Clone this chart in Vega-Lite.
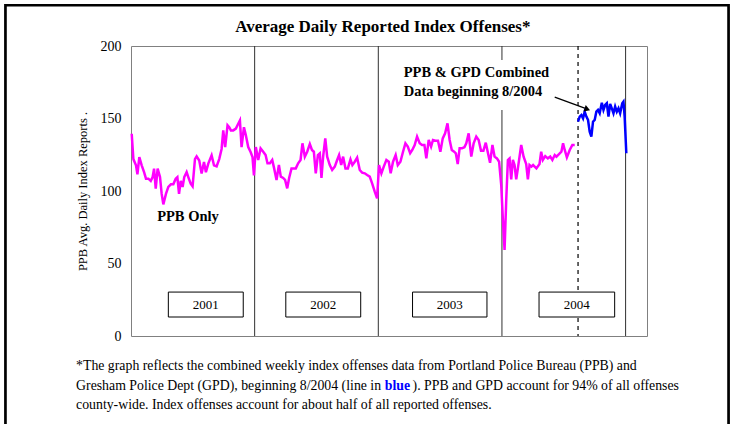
{
"$schema": "https://vega.github.io/schema/vega-lite/v6.json",
"width": 516, "height": 290,
"autosize": "none",
"padding": {"left": 131, "top": 46, "right": 85, "bottom": 88},
"background": "white",
"config": {"view": {"stroke": "#808080", "strokeWidth": 1}, "font": "Liberation Serif", "axis": {"labelFont": "Liberation Serif", "titleFont": "Liberation Serif", "labelFontSize": 14}},
"datasets": {
"ppb": [
{"week":0.3,"value":139.5},{"week":1.0,"value":122},{"week":2.1,"value":117.7},{"week":2.7,"value":111.5},{"week":3.5,"value":123.4},{"week":4.5,"value":117.7},{"week":5.5,"value":113},{"week":6.3,"value":108.5},{"week":7.3,"value":108.5},{"week":8.3,"value":107},{"week":9.1,"value":109.6},{"week":9.7,"value":115.4},{"week":10.4,"value":101.6},{"week":11.2,"value":115.4},{"week":12.2,"value":109.6},{"week":12.9,"value":98},{"week":13.6,"value":90.8},{"week":14.7,"value":98},{"week":15.7,"value":102.8},{"week":16.8,"value":104.6},{"week":17.8,"value":104.6},{"week":18.8,"value":108.5},{"week":19.5,"value":109.6},{"week":20.2,"value":98},{"week":20.9,"value":107},{"week":21.7,"value":102.8},{"week":22.4,"value":109.6},{"week":23.4,"value":113},{"week":24.1,"value":109.6},{"week":25.1,"value":105},{"week":25.9,"value":103.2},{"week":26.9,"value":122},{"week":27.6,"value":123.9},{"week":28.7,"value":121},{"week":29.7,"value":112},{"week":30.7,"value":120},{"week":31.5,"value":113},{"week":32.5,"value":118.9},{"week":33.9,"value":124.6},{"week":34.9,"value":117.7},{"week":36.0,"value":117},{"week":37.1,"value":122},{"week":38.1,"value":129},{"week":38.8,"value":141.8},{"week":39.6,"value":130.3},{"week":40.6,"value":145.3},{"week":41.3,"value":144},{"week":42.0,"value":141.8},{"week":43.0,"value":141.8},{"week":44.1,"value":143},{"week":45.1,"value":146.4},{"week":45.8,"value":148.7},{"week":46.5,"value":130.3},{"week":47.5,"value":144},{"week":48.3,"value":138.4},{"week":49.3,"value":130.3},{"week":50.3,"value":126.9},{"week":51.1,"value":123.4},{"week":51.7,"value":110.8},{"week":52.5,"value":130.3},
{"week":53.5,"value":121.4},{"week":54.5,"value":129.4},{"week":55.6,"value":127.1},{"week":56.6,"value":124.8},{"week":57.4,"value":119.1},{"week":58.4,"value":119.1},{"week":59.4,"value":121.4},{"week":60.2,"value":115.6},{"week":61.2,"value":107.6},{"week":62.2,"value":117.9},{"week":63.0,"value":109.9},{"week":64.0,"value":109},{"week":64.8,"value":107.6},{"week":65.7,"value":101.8},{"week":66.5,"value":109},{"week":67.5,"value":115.6},{"week":68.5,"value":115.6},{"week":69.3,"value":115.6},{"week":70.3,"value":119.1},{"week":71.3,"value":121.4},{"week":72.1,"value":132.9},{"week":73.1,"value":123.7},{"week":74.1,"value":127.1},{"week":75.2,"value":132.4},{"week":76.1,"value":128.3},{"week":76.9,"value":127.1},{"week":77.7,"value":112.2},{"week":78.6,"value":124.8},{"week":79.4,"value":126},{"week":80.1,"value":109},{"week":80.8,"value":123.7},{"week":81.7,"value":136.3},{"week":82.5,"value":123.7},{"week":83.6,"value":117.9},{"week":84.6,"value":114.5},{"week":85.7,"value":116.8},{"week":86.7,"value":121.4},{"week":87.5,"value":124.8},{"week":88.4,"value":117.9},{"week":89.2,"value":123.7},{"week":90.2,"value":115.6},{"week":91.2,"value":115.6},{"week":92.3,"value":121.8},{"week":93.1,"value":117.9},{"week":94.1,"value":120.2},{"week":95.1,"value":123},{"week":96.2,"value":114.5},{"week":97.2,"value":112.7},{"week":98.3,"value":112.2},{"week":99.3,"value":111},{"week":100.4,"value":109.9},{"week":101.4,"value":105.3},{"week":102.5,"value":99.5},{"week":103.5,"value":94.9},
{"week":104.3,"value":117.9},{"week":105.3,"value":112.2},{"week":106.3,"value":116.8},{"week":107.4,"value":121.4},{"week":108.4,"value":120.2},{"week":109.2,"value":112.2},{"week":110.2,"value":120.2},{"week":111.3,"value":124.8},{"week":112.2,"value":117.9},{"week":113.3,"value":120.2},{"week":114.4,"value":127.1},{"week":115.4,"value":132.9},{"week":116.4,"value":130.6},{"week":117.4,"value":126},{"week":118.3,"value":128.3},{"week":119.3,"value":131.7},{"week":120.3,"value":137.5},{"week":121.4,"value":132.9},{"week":122.4,"value":131.7},{"week":123.4,"value":131.7},{"week":124.2,"value":122.5},{"week":125.2,"value":135.2},{"week":126.2,"value":130.6},{"week":127.0,"value":135.2},{"week":128.0,"value":134.7},{"week":129.1,"value":134.7},{"week":130.1,"value":127.1},{"week":131.1,"value":136.3},{"week":132.1,"value":139.8},{"week":133.1,"value":146.7},{"week":134.0,"value":135.2},{"week":134.9,"value":128.3},{"week":135.9,"value":127.1},{"week":136.6,"value":126},{"week":137.4,"value":118.6},{"week":138.2,"value":129.4},{"week":139.2,"value":129.4},{"week":140.2,"value":130.2},{"week":141.0,"value":132.9},{"week":142.0,"value":139.8},{"week":143.1,"value":123.7},{"week":144.1,"value":132.9},{"week":145.2,"value":137.5},{"week":146.2,"value":135.2},{"week":147.2,"value":127.8},{"week":148.2,"value":127.8},{"week":149.2,"value":133.3},{"week":150.0,"value":127.1},{"week":151.0,"value":119.5},{"week":152.0,"value":131.7},{"week":152.9,"value":123.7},{"week":153.9,"value":122.5},{"week":154.8,"value":120.2},{"week":155.7,"value":104.1},{"week":156.4,"value":80},{"week":157.1,"value":59.3},{"week":157.8,"value":93.8},{"week":158.5,"value":121.4},
{"week":159.2,"value":122.5},{"week":159.9,"value":108},{"week":160.6,"value":121.4},{"week":161.3,"value":117.9},{"week":162.0,"value":108},{"week":162.7,"value":115.6},{"week":164.1,"value":131.7},{"week":165.1,"value":123.7},{"week":166.2,"value":118.6},{"week":166.9,"value":108},{"week":167.6,"value":117.9},{"week":168.4,"value":116.8},{"week":169.1,"value":117.9},{"week":170.5,"value":115.6},{"week":171.8,"value":118.6},{"week":172.5,"value":127.1},{"week":173.2,"value":121.4},{"week":174.2,"value":124.1},{"week":175.3,"value":122.5},{"week":176.3,"value":123.7},{"week":177.2,"value":121.4},{"week":178.2,"value":124.8},{"week":178.9,"value":123.7},{"week":180.0,"value":125.5},{"week":181.0,"value":127.1},{"week":181.7,"value":132.9},{"week":182.4,"value":128.3},{"week":183.3,"value":123.2},{"week":184.5,"value":128.3},{"week":185.6,"value":131.7},{"week":186.6,"value":131.7}
],
"combined": [
{"week":188.0,"value":147.8},{"week":188.7,"value":151.3},{"week":189.4,"value":152.4},{"week":190.1,"value":150.1},{"week":190.8,"value":154.7},{"week":191.5,"value":151.3},{"week":192.2,"value":149},{"week":192.9,"value":140.9},{"week":193.6,"value":137.5},{"week":194.3,"value":147.8},{"week":195.0,"value":149},{"week":195.7,"value":154.7},{"week":196.4,"value":155.9},{"week":197.1,"value":153.6},{"week":198.0,"value":160.9},{"week":198.7,"value":155.9},{"week":199.4,"value":159.3},{"week":200.1,"value":160.5},{"week":200.8,"value":151.3},{"week":201.5,"value":160},{"week":202.2,"value":157},{"week":202.9,"value":153.6},{"week":203.6,"value":158.2},{"week":204.3,"value":154.7},{"week":205.0,"value":157},{"week":205.7,"value":153.6},{"week":206.6,"value":160.5},{"week":207.1,"value":161.6},{"week":207.6,"value":151.3},{"week":208.3,"value":126}
],
"years": [{"week":52},{"week":104},{"week":156},{"week":208}],
"dash": [{"week":188}],
"boxes": [
{"week":15.7,"week2":47.2,"value":13.1,"value2":30.3,"label":"2001","mid":31.45},
{"week":65.1,"week2":96.6,"value":13.1,"value2":30.3,"label":"2002","mid":80.85},
{"week":118.4,"week2":149.7,"value":13.1,"value2":30.3,"label":"2003","mid":134.05},
{"week":171.6,"week2":203.4,"value":13.1,"value2":30.3,"label":"2004","mid":187.5}
],
"mask": [{"week":112.2,"week2":179,"value":155.9,"value2":190.3}],
"frame": [{"week":-52.8,"week2":251.3,"value":228.1,"value2":-64.8}],
"labels": [
{"week":11,"value":82,"text":"PPB Only"},
{"week":114.7,"value":181.4,"text":"PPB & GPD Combined"},
{"week":114.7,"value":168.3,"text":"Data beginning 8/2004"}
],
"heading": [{"week":105.9,"value":213.1,"text":"Average Daily Reported Index Offenses*"}],
"arrow": [{"week":178.2,"value":164.8,"week2":190.8,"value2":157.2}],
"arrowhead": [{"week":191.9,"value":156.4}],
"notes": [
{"week":-23.1,"value":-20.7,"text":"*The graph reflects the combined weekly index offenses data from  Portland Police Bureau (PPB) and"},
{"week":-23.1,"value":-34.5,"text":"Gresham Police Dept (GPD), beginning 8/2004 (line in"},
{"week":118.4,"value":-34.5,"text":"). PPB and GPD account for 94% of all offenses"},
{"week":-23.1,"value":-47.6,"text":"county-wide. Index offenses account for about half of all reported offenses."}
],
"bluenote": [{"week":106.7,"value":-34.5,"text":"blue"}]
},
"layer": [
{"data": {"name": "frame"}, "mark": {"type": "rect", "fill": null, "stroke": "black", "strokeWidth": 2.7},
 "encoding": {"x": {"field": "week", "type": "quantitative", "scale": {"domain": [0, 217], "nice": false, "zero": false}, "axis": null}, "x2": {"field": "week2"},
  "y": {"field": "value", "type": "quantitative", "scale": {"domain": [0, 200], "nice": false}, "title": "PPB Avg. Daily Index Reports .", "axis": {"values": [0, 50, 100, 150, 200], "ticks": false, "domain": false, "grid": false, "labelFont": "Liberation Serif", "labelFontSize": 14, "labelColor": "black", "labelPadding": 10, "titleFont": "Liberation Serif", "titleFontSize": 12.5, "titleFontWeight": "normal", "titleColor": "black", "titlePadding": 11}}, "y2": {"field": "value2"}}},
{"data": {"name": "years"}, "mark": {"type": "rule", "color": "#303030", "strokeWidth": 1},
 "encoding": {"x": {"field": "week", "type": "quantitative", "scale": {"domain": [0, 217], "nice": false, "zero": false}, "axis": null}}},
{"data": {"name": "dash"}, "mark": {"type": "rule", "color": "black", "strokeWidth": 1.2, "strokeDash": [4, 4]},
 "encoding": {"x": {"field": "week", "type": "quantitative", "scale": {"domain": [0, 217], "nice": false, "zero": false}, "axis": null}}},
{"data": {"name": "mask"}, "mark": {"type": "rect", "fill": "white", "stroke": null},
 "encoding": {"x": {"field": "week", "type": "quantitative", "scale": {"domain": [0, 217], "nice": false, "zero": false}, "axis": null}, "x2": {"field": "week2"},
  "y": {"field": "value", "type": "quantitative", "scale": {"domain": [0, 200], "nice": false}, "title": "PPB Avg. Daily Index Reports .", "axis": {"values": [0, 50, 100, 150, 200], "ticks": false, "domain": false, "grid": false, "labelFont": "Liberation Serif", "labelFontSize": 14, "labelColor": "black", "labelPadding": 10, "titleFont": "Liberation Serif", "titleFontSize": 12.5, "titleFontWeight": "normal", "titleColor": "black", "titlePadding": 11}}, "y2": {"field": "value2"}}},
{"data": {"name": "ppb"}, "mark": {"type": "line", "color": "#FF00FF", "strokeWidth": 2.5, "strokeJoin": "miter"},
 "encoding": {"x": {"field": "week", "type": "quantitative", "scale": {"domain": [0, 217], "nice": false, "zero": false}, "axis": null},
  "y": {"field": "value", "type": "quantitative", "scale": {"domain": [0, 200], "nice": false}, "title": "PPB Avg. Daily Index Reports .", "axis": {"values": [0, 50, 100, 150, 200], "ticks": false, "domain": false, "grid": false, "labelFont": "Liberation Serif", "labelFontSize": 14, "labelColor": "black", "labelPadding": 10, "titleFont": "Liberation Serif", "titleFontSize": 12.5, "titleFontWeight": "normal", "titleColor": "black", "titlePadding": 11}}}},
{"data": {"name": "combined"}, "mark": {"type": "line", "color": "#0000FF", "strokeWidth": 2.5, "strokeJoin": "miter"},
 "encoding": {"x": {"field": "week", "type": "quantitative", "scale": {"domain": [0, 217], "nice": false, "zero": false}, "axis": null},
  "y": {"field": "value", "type": "quantitative", "scale": {"domain": [0, 200], "nice": false}, "title": "PPB Avg. Daily Index Reports .", "axis": {"values": [0, 50, 100, 150, 200], "ticks": false, "domain": false, "grid": false, "labelFont": "Liberation Serif", "labelFontSize": 14, "labelColor": "black", "labelPadding": 10, "titleFont": "Liberation Serif", "titleFontSize": 12.5, "titleFontWeight": "normal", "titleColor": "black", "titlePadding": 11}}}},
{"data": {"name": "boxes"}, "mark": {"type": "rect", "fill": "white", "stroke": "black", "strokeWidth": 1},
 "encoding": {"x": {"field": "week", "type": "quantitative", "scale": {"domain": [0, 217], "nice": false, "zero": false}, "axis": null}, "x2": {"field": "week2"},
  "y": {"field": "value", "type": "quantitative", "scale": {"domain": [0, 200], "nice": false}, "title": "PPB Avg. Daily Index Reports .", "axis": {"values": [0, 50, 100, 150, 200], "ticks": false, "domain": false, "grid": false, "labelFont": "Liberation Serif", "labelFontSize": 14, "labelColor": "black", "labelPadding": 10, "titleFont": "Liberation Serif", "titleFontSize": 12.5, "titleFontWeight": "normal", "titleColor": "black", "titlePadding": 11}}, "y2": {"field": "value2"}}},
{"data": {"name": "boxes"}, "mark": {"type": "text", "font": "Liberation Serif", "fontSize": 13, "color": "black", "align": "center", "baseline": "middle"},
 "encoding": {"x": {"field": "mid", "type": "quantitative", "scale": {"domain": [0, 217], "nice": false, "zero": false}, "axis": null},
  "y": {"datum": 21.7, "type": "quantitative", "scale": {"domain": [0, 200], "nice": false}, "title": "PPB Avg. Daily Index Reports .", "axis": {"values": [0, 50, 100, 150, 200], "ticks": false, "domain": false, "grid": false, "labelFont": "Liberation Serif", "labelFontSize": 14, "labelColor": "black", "labelPadding": 10, "titleFont": "Liberation Serif", "titleFontSize": 12.5, "titleFontWeight": "normal", "titleColor": "black", "titlePadding": 11}}, "text": {"field": "label"}}},
{"data": {"name": "labels"}, "mark": {"type": "text", "font": "Liberation Serif", "fontSize": 14.5, "fontWeight": "bold", "color": "black", "align": "left", "baseline": "middle"},
 "encoding": {"x": {"field": "week", "type": "quantitative", "scale": {"domain": [0, 217], "nice": false, "zero": false}, "axis": null},
  "y": {"field": "value", "type": "quantitative", "scale": {"domain": [0, 200], "nice": false}, "title": "PPB Avg. Daily Index Reports .", "axis": {"values": [0, 50, 100, 150, 200], "ticks": false, "domain": false, "grid": false, "labelFont": "Liberation Serif", "labelFontSize": 14, "labelColor": "black", "labelPadding": 10, "titleFont": "Liberation Serif", "titleFontSize": 12.5, "titleFontWeight": "normal", "titleColor": "black", "titlePadding": 11}}, "text": {"field": "text"}}},
{"data": {"name": "heading"}, "mark": {"type": "text", "font": "Liberation Serif", "fontSize": 17, "fontWeight": "bold", "color": "black", "align": "center", "baseline": "middle"},
 "encoding": {"x": {"field": "week", "type": "quantitative", "scale": {"domain": [0, 217], "nice": false, "zero": false}, "axis": null},
  "y": {"field": "value", "type": "quantitative", "scale": {"domain": [0, 200], "nice": false}, "title": "PPB Avg. Daily Index Reports .", "axis": {"values": [0, 50, 100, 150, 200], "ticks": false, "domain": false, "grid": false, "labelFont": "Liberation Serif", "labelFontSize": 14, "labelColor": "black", "labelPadding": 10, "titleFont": "Liberation Serif", "titleFontSize": 12.5, "titleFontWeight": "normal", "titleColor": "black", "titlePadding": 11}}, "text": {"field": "text"}}},
{"data": {"name": "arrow"}, "mark": {"type": "rule", "color": "black", "strokeWidth": 1.3},
 "encoding": {"x": {"field": "week", "type": "quantitative", "scale": {"domain": [0, 217], "nice": false, "zero": false}, "axis": null}, "x2": {"field": "week2"},
  "y": {"field": "value", "type": "quantitative", "scale": {"domain": [0, 200], "nice": false}, "title": "PPB Avg. Daily Index Reports .", "axis": {"values": [0, 50, 100, 150, 200], "ticks": false, "domain": false, "grid": false, "labelFont": "Liberation Serif", "labelFontSize": 14, "labelColor": "black", "labelPadding": 10, "titleFont": "Liberation Serif", "titleFontSize": 12.5, "titleFontWeight": "normal", "titleColor": "black", "titlePadding": 11}}, "y2": {"field": "value2"}}},
{"data": {"name": "arrowhead"}, "mark": {"type": "point", "shape": "triangle-right", "filled": true, "color": "black", "size": 45, "angle": 20, "opacity": 1},
 "encoding": {"x": {"field": "week", "type": "quantitative", "scale": {"domain": [0, 217], "nice": false, "zero": false}, "axis": null},
  "y": {"field": "value", "type": "quantitative", "scale": {"domain": [0, 200], "nice": false}, "title": "PPB Avg. Daily Index Reports .", "axis": {"values": [0, 50, 100, 150, 200], "ticks": false, "domain": false, "grid": false, "labelFont": "Liberation Serif", "labelFontSize": 14, "labelColor": "black", "labelPadding": 10, "titleFont": "Liberation Serif", "titleFontSize": 12.5, "titleFontWeight": "normal", "titleColor": "black", "titlePadding": 11}}}},
{"data": {"name": "notes"}, "mark": {"type": "text", "font": "Liberation Serif", "fontSize": 13.8, "color": "black", "align": "left", "baseline": "middle"},
 "encoding": {"x": {"field": "week", "type": "quantitative", "scale": {"domain": [0, 217], "nice": false, "zero": false}, "axis": null},
  "y": {"field": "value", "type": "quantitative", "scale": {"domain": [0, 200], "nice": false}, "title": "PPB Avg. Daily Index Reports .", "axis": {"values": [0, 50, 100, 150, 200], "ticks": false, "domain": false, "grid": false, "labelFont": "Liberation Serif", "labelFontSize": 14, "labelColor": "black", "labelPadding": 10, "titleFont": "Liberation Serif", "titleFontSize": 12.5, "titleFontWeight": "normal", "titleColor": "black", "titlePadding": 11}}, "text": {"field": "text"}}},
{"data": {"name": "bluenote"}, "mark": {"type": "text", "font": "Liberation Serif", "fontSize": 13.8, "fontWeight": "bold", "color": "#0000FF", "align": "left", "baseline": "middle"},
 "encoding": {"x": {"field": "week", "type": "quantitative", "scale": {"domain": [0, 217], "nice": false, "zero": false}, "axis": null},
  "y": {"field": "value", "type": "quantitative", "scale": {"domain": [0, 200], "nice": false}, "title": "PPB Avg. Daily Index Reports .", "axis": {"values": [0, 50, 100, 150, 200], "ticks": false, "domain": false, "grid": false, "labelFont": "Liberation Serif", "labelFontSize": 14, "labelColor": "black", "labelPadding": 10, "titleFont": "Liberation Serif", "titleFontSize": 12.5, "titleFontWeight": "normal", "titleColor": "black", "titlePadding": 11}}, "text": {"field": "text"}}}
]
}
